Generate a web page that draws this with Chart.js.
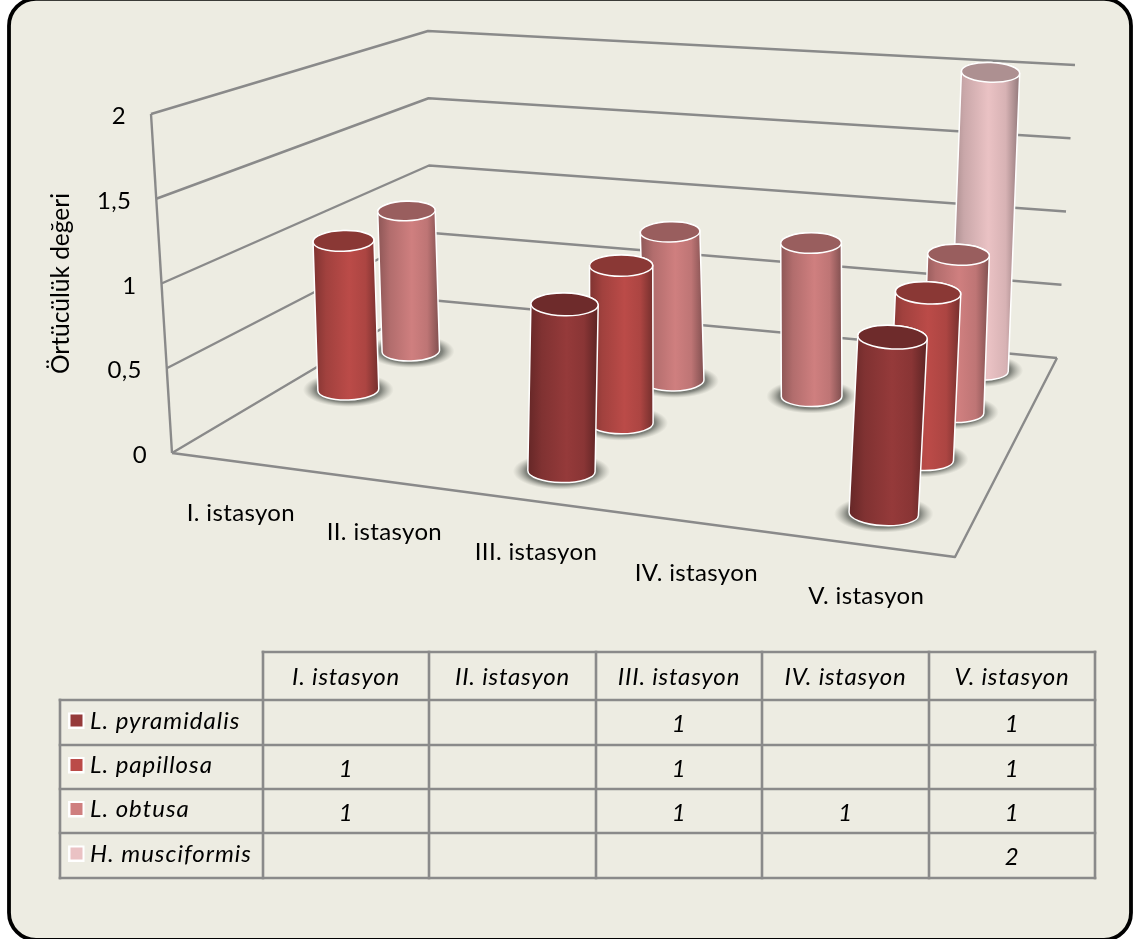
<!DOCTYPE html>
<html>
<head>
<meta charset="utf-8">
<title>Örtücülük değeri</title>
<style>html,body{margin:0;padding:0;background:#fff}canvas{display:block}</style>
<script src="https://cdn.jsdelivr.net/npm/chart.js@4"></script>
</head>
<body>
<canvas id="c" width="1133" height="939"></canvas>
<script>
// Station categories and cover values per species
const stations = ['I. istasyon', 'II. istasyon', 'III. istasyon', 'IV. istasyon', 'V. istasyon'];
const pyramidalis = [null, null, 1, null, 1];
const papillosa = [1, null, 1, null, 1];
const obtusa = [1, null, 1, 1, 1];
const musciformis = [null, null, null, null, 2];
const speciesNames = ['L. pyramidalis', 'L. papillosa', 'L. obtusa', 'H. musciformis'];
const speciesColors = ['#953a3a', '#bb4b48', '#cf7f7f', '#eac2c4'];
const axisTicks = [0, 0.5, 1, 1.5, 2];

const FONT = 'Lato, Carlito, sans-serif';
const GRID = '#8a8a8a';
const PANEL = '#edece2';

// Corners of the 3D box: floor and top planes (u along stations, v into depth)
const floorQuad = [[172, 453], [955, 557], [1057, 358], [430, 300]];
const topQuad = [[151, 114], [973, 187], [1075, 65], [428, 31]];

function quadMap(q) {
  const [[x0, y0], [x1, y1], [x2, y2], [x3, y3]] = q;
  const dx1 = x1 - x2, dx2 = x3 - x2, sx = x0 - x1 + x2 - x3;
  const dy1 = y1 - y2, dy2 = y3 - y2, sy = y0 - y1 + y2 - y3;
  const d = dx1 * dy2 - dx2 * dy1;
  const g = (sx * dy2 - dx2 * sy) / d, h = (dx1 * sy - sx * dy1) / d;
  const a = x1 - x0 + g * x1, b = x3 - x0 + h * x3;
  const c = y1 - y0 + g * y1, e = y3 - y0 + h * y3;
  return (u, v) => {
    const w = g * u + h * v + 1;
    return [(a * u + b * v + x0) / w, (c * u + e * v + y0) / w];
  };
}
const floorMap = quadMap(floorQuad);
const topMap = quadMap(topQuad);
// u, v in 0..1 on the floor, t = fraction of the axis height
function project(u, v, t) {
  const p = floorMap(u, v), q = topMap(u, v);
  return [p[0] + (q[0] - p[0]) * t, p[1] + (q[1] - p[1]) * t];
}
const axisFraction = (ys, v) => (ys.bottom - ys.getPixelForValue(v)) / ys.height;
// Slight bow along the station axis, on top of the pure perspective
const bowedU = (u, k) => u + 0.067 * k * u * (1 - u);

function shade(hex, f) {
  const n = parseInt(hex.slice(1), 16);
  const ch = s => Math.round(((n >> s) & 255) * f);
  return `rgb(${ch(16)},${ch(8)},${ch(0)})`;
}

// Bar controller that paints each value as a cylinder standing on the floor
class CylinderController extends Chart.BarController {
  draw() {
    const meta = this._cachedMeta;
    const ctx = this.chart.ctx;
    const xs = meta.iScale, ys = meta.vScale;
    const count = this.chart.data.datasets.length;
    const depth = (this.index + 0.5) / count;
    const footBow = Math.min(1, (depth - 0.125) / 0.5);
    const color = this.getDataset().backgroundColor;
    meta._parsed.forEach((row, i) => {
      const val = row[ys.axis];
      if (val === null || val === undefined || isNaN(val)) return;
      const u0 = (xs.getPixelForValue(i) - xs.left) / xs.width;
      const u = bowedU(u0, 1);
      const t = axisFraction(ys, val);
      const B = project(bowedU(u0, footBow), depth, 0), T = project(u, depth, t);
      const base = project(u, depth, 0);
      const unit = project(u, depth, axisFraction(ys, 1));
      const unitH = Math.hypot(unit[0] - base[0], unit[1] - base[1]);
      B[1] -= 5 * (1 - u);
      T[1] += 3 * (1 - u);
      const rx = unitH * 0.195, ry = unitH * 0.066;
      const rot = Math.atan2(T[0] - B[0], B[1] - T[1]);

      // soft contact shadow
      const outer = rx + 15;
      ctx.save();
      ctx.translate(B[0], B[1]);
      ctx.scale(1, (ry + 7) / outer);
      const sg = ctx.createRadialGradient(0, 0, rx * 0.75, 0, 0, outer);
      sg.addColorStop(0, 'rgba(78,84,78,0.9)');
      sg.addColorStop(0.45, 'rgba(84,88,82,0.7)');
      sg.addColorStop(1, 'rgba(140,142,132,0)');
      ctx.fillStyle = sg;
      ctx.beginPath();
      ctx.arc(0, 0, outer, 0, Math.PI * 2);
      ctx.fill();
      ctx.restore();

      // side wall
      const lx = Math.min(B[0], T[0]) - rx, hx = Math.max(B[0], T[0]) + rx;
      const g = ctx.createLinearGradient(lx, 0, hx, 0);
      g.addColorStop(0, shade(color, 0.68));
      g.addColorStop(0.2, shade(color, 0.86));
      g.addColorStop(0.55, shade(color, 1));
      g.addColorStop(0.8, shade(color, 0.92));
      g.addColorStop(1, shade(color, 0.62));
      ctx.beginPath();
      ctx.ellipse(B[0], B[1], rx, ry, rot, 0, Math.PI);
      ctx.ellipse(T[0], T[1], rx, ry, rot, Math.PI, Math.PI * 2);
      ctx.closePath();
      ctx.fillStyle = g;
      ctx.fill();
      ctx.strokeStyle = '#ffffff';
      ctx.lineWidth = 1.5;
      ctx.stroke();

      // top cap
      ctx.beginPath();
      ctx.ellipse(T[0], T[1], rx, ry, rot, 0, Math.PI * 2);
      ctx.fillStyle = shade(color, 0.74);
      ctx.fill();
      ctx.stroke();
    });
  }
}
CylinderController.id = 'cylinder';
CylinderController.defaults = Chart.BarController.defaults;
Chart.register(CylinderController);

function strokeLine(ctx, pts) {
  ctx.beginPath();
  pts.forEach((p, i) => i ? ctx.lineTo(p[0], p[1]) : ctx.moveTo(p[0], p[1]));
  ctx.stroke();
}

const panelPlugin = {
  id: 'panel',
  beforeDraw(chart) {
    const ctx = chart.ctx;
    ctx.save();
    ctx.fillStyle = '#ffffff';
    ctx.fillRect(0, 0, chart.width, chart.height);
    ctx.beginPath();
    ctx.roundRect(9, -1.2, 1122, 941, 27);
    ctx.fillStyle = PANEL;
    ctx.fill();
    ctx.strokeStyle = '#000000';
    ctx.lineWidth = 3.8;
    ctx.stroke();
    ctx.restore();
  }
};

// Walls, floor outline, tick labels and station labels of the 3D box
const boxPlugin = {
  id: 'box',
  beforeDatasetsDraw(chart) {
    const ctx = chart.ctx, ys = chart.scales.y, xs = chart.scales.x;
    ctx.save();
    ctx.strokeStyle = GRID;
    ctx.lineWidth = 2.4;
    ctx.lineJoin = 'round';
    ys.ticks.forEach(tk => {
      const t = axisFraction(ys, tk.value);
      strokeLine(ctx, [project(0, 0, t), project(0, 1, t), project(1, 1, t)]);
    });
    strokeLine(ctx, [project(0, 0, 0), project(0, 0, 1)]);
    strokeLine(ctx, [project(0, 0, 0), project(1, 0, 0), project(1, 1, 0)]);

    ctx.fillStyle = '#000';
    ctx.font = `24px ${FONT}`;
    ctx.letterSpacing = '0.35px';
    ctx.textBaseline = 'middle';
    ctx.textAlign = 'right';
    ys.ticks.forEach(tk => {
      const t = axisFraction(ys, tk.value);
      const p = project(0, 0, t);
      ctx.fillText(String(tk.value).replace('.', ','), p[0] - 25, p[1] + 2.5);
    });
    ctx.textAlign = 'center';
    stations.forEach((s, i) => {
      const u = (xs.getPixelForValue(i) - xs.left) / xs.width;
      const p = project(bowedU(u, 0.35), 0, 0);
      ctx.fillText(xs.getLabelForValue(i), p[0], p[1] + 51);
    });
    ctx.letterSpacing = '0px';
    ctx.restore();
  }
};

// Data table under the plot, built from the same series as the cylinders
const tablePlugin = {
  id: 'dataTable',
  afterDraw(chart) {
    const ctx = chart.ctx;
    const colX = [60, 263, 429, 596, 762, 929, 1095];
    const rowY = [652, 700, 745, 789, 833, 878];
    ctx.save();
    ctx.strokeStyle = GRID;
    ctx.lineWidth = 2.6;
    ctx.lineCap = 'square';
    rowY.forEach((y, r) => strokeLine(ctx, [[r === 0 ? colX[1] : colX[0], y], [colX[6], y]]));
    colX.forEach((x, c) => strokeLine(ctx, [[x, c === 0 ? rowY[1] : rowY[0]], [x, rowY[5]]]));
    ctx.fillStyle = '#000';
    ctx.font = `italic 24px ${FONT}`;
    ctx.letterSpacing = '0.8px';
    ctx.textBaseline = 'middle';
    ctx.textAlign = 'center';
    chart.data.labels.forEach((s, c) => {
      ctx.fillText(s, (colX[c + 1] + colX[c + 2]) / 2, (rowY[0] + rowY[1]) / 2 + 1);
    });
    chart.data.datasets.forEach((ds, r) => {
      const my = (rowY[r + 1] + rowY[r + 2]) / 2;
      ds.data.forEach((v, c) => {
        if (v !== null) ctx.fillText(String(v), (colX[c + 1] + colX[c + 2]) / 2, my + 2);
      });
      ctx.fillStyle = '#fff';
      ctx.fillRect(68, my - 10, 16.5, 16.5);
      ctx.fillStyle = ds.backgroundColor;
      ctx.fillRect(70.5, my - 8, 12, 12);
      ctx.fillStyle = '#000';
      ctx.textAlign = 'left';
      ctx.letterSpacing = '1px';
      ctx.fillText(ds.label, 90, my - 1.5);
      ctx.letterSpacing = '0.8px';
      ctx.textAlign = 'center';
    });
    ctx.letterSpacing = '0px';
    ctx.restore();
  }
};

new Chart(document.getElementById('c'), {
  type: 'cylinder',
  data: {
    labels: stations,
    datasets: [
      { label: speciesNames[0], data: pyramidalis, backgroundColor: speciesColors[0], clip: false },
      { label: speciesNames[1], data: papillosa, backgroundColor: speciesColors[1], clip: false },
      { label: speciesNames[2], data: obtusa, backgroundColor: speciesColors[2], clip: false },
      { label: speciesNames[3], data: musciformis, backgroundColor: speciesColors[3], clip: false }
    ]
  },
  options: {
    responsive: false,
    animation: false,
    layout: { padding: { left: 46, right: 40, top: 115, bottom: 487 } },
    plugins: { legend: { display: false }, tooltip: { enabled: false } },
    scales: {
      x: { display: false },
      y: {
        min: axisTicks[0],
        max: axisTicks[axisTicks.length - 1],
        grid: { display: false },
        border: { display: false },
        ticks: { display: false, stepSize: axisTicks[1] },
        title: {
          display: true,
          text: 'Örtücülük değeri',
          color: '#000',
          font: { family: FONT, size: 24.5 },
          padding: 0
        }
      }
    }
  },
  plugins: [panelPlugin, boxPlugin, tablePlugin]
});
</script>
</body>
</html>
